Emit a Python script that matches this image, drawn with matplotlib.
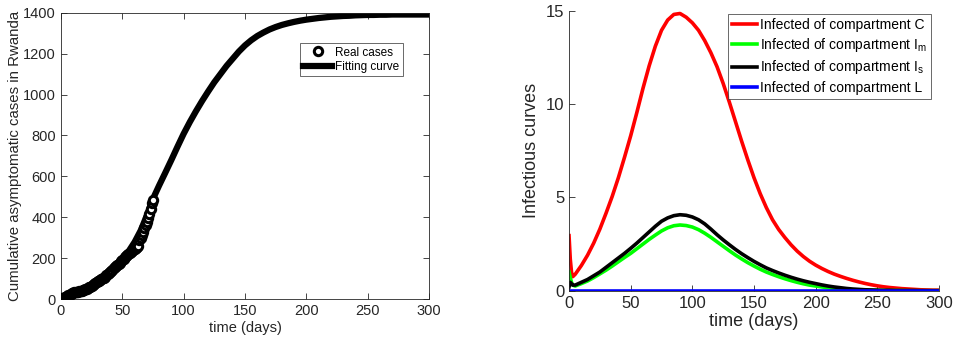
import numpy as np
import matplotlib
matplotlib.use("Agg")
import matplotlib.pyplot as plt

plt.rcParams['font.family'] = ['Liberation Sans', 'DejaVu Sans']
plt.rcParams['mathtext.fontset'] = 'custom'
plt.rcParams['mathtext.rm'] = 'Liberation Sans'
plt.rcParams['mathtext.it'] = 'Liberation Sans:italic'

# ---------------- data (left panel) ----------------
real_days = list(range(0, 76))
real_cases = [2, 4, 5, 8, 10, 14, 18, 22, 25, 28, 30, 32, 33, 35, 36, 38, 40, 41, 43, 45,
              47, 50, 53, 57, 60, 64, 68, 72, 77, 82, 87, 90, 93, 97, 101, 105, 110, 115, 120, 126,
              132, 138, 144, 150, 156, 160, 166, 172, 178, 184, 190, 197, 204, 210, 215, 220, 224, 229, 234, 240,
              245, 250, 255, 258, 290, 300, 315, 330, 345, 360, 375, 395, 415, 440, 470, 485]

fit_days = list(range(0, 301, 5))
fit_cases = [3, 10, 22, 33, 45, 60, 80, 102, 128, 158,
             192, 232, 278, 335, 408, 490, 555, 617, 680, 745,
             808, 865, 918, 968, 1015, 1060, 1100, 1140, 1175, 1210,
             1240, 1265, 1286, 1303, 1318, 1330, 1340, 1348, 1355, 1361,
             1366, 1370, 1374, 1377, 1380, 1382, 1384, 1385, 1387, 1388,
             1389, 1389, 1390, 1390, 1391, 1391, 1391, 1391, 1391, 1391,
             1391]

# ---------------- data (right panel) ----------------
t_days = [0, 1, 2, 3] + list(range(5, 301, 5))
inf_C = [2.95, 1.7, 1.0, 0.75,
         0.88, 1.35, 1.9, 2.55, 3.3, 4.15, 5.05, 6.05, 7.15, 8.3,
         9.55, 10.85, 12.05, 13.1, 13.95, 14.5, 14.8, 14.85, 14.65, 14.35,
         13.95, 13.4, 12.75, 12.0, 11.1, 10.1, 9.05, 8.0, 7.0, 6.05,
         5.2, 4.45, 3.8, 3.28, 2.85, 2.46, 2.12, 1.83, 1.58, 1.37,
         1.19, 1.03, 0.89, 0.77, 0.66, 0.56, 0.47, 0.39, 0.32, 0.26,
         0.21, 0.17, 0.14, 0.11, 0.09, 0.07, 0.05, 0.04, 0.03, 0.03]
inf_Im = [1.0, 0.7, 0.45, 0.3,
          0.25, 0.38, 0.52, 0.7, 0.9, 1.1, 1.32, 1.55, 1.78, 2.0,
          2.25, 2.5, 2.75, 2.98, 3.2, 3.37, 3.48, 3.52, 3.49, 3.41,
          3.27, 3.08, 2.86, 2.62, 2.38, 2.14, 1.91, 1.7, 1.5, 1.32,
          1.15, 1.0, 0.87, 0.75, 0.64, 0.54, 0.45, 0.37, 0.3, 0.25,
          0.2, 0.16, 0.12, 0.09, 0.07, 0.05, 0.04, 0.03, 0.02, 0.02,
          0.01, 0.01, 0.01, 0.01, 0.0, 0.0, 0.0, 0.0, 0.0, 0.0]
inf_Is = [0.2, 0.45, 0.38, 0.3,
          0.3, 0.45, 0.6, 0.8, 1.0, 1.25, 1.5, 1.75, 2.0, 2.27,
          2.55, 2.85, 3.15, 3.45, 3.72, 3.9, 4.02, 4.07, 4.04, 3.95,
          3.8, 3.58, 3.3, 3.0, 2.72, 2.46, 2.21, 1.98, 1.77, 1.57,
          1.39, 1.22, 1.08, 0.95, 0.83, 0.72, 0.62, 0.53, 0.45, 0.38,
          0.31, 0.25, 0.2, 0.16, 0.12, 0.09, 0.07, 0.05, 0.04, 0.03,
          0.02, 0.02, 0.01, 0.01, 0.01, 0.01, 0.0, 0.0, 0.0, 0.0]
inf_L = [0.0] * len(t_days)

label_C = 'Infected of compartment C'
label_Im = r'Infected of compartment I$_\mathrm{m}$'
label_Is = r'Infected of compartment I$_\mathrm{s}$'
label_L = 'Infected of compartment L'

txt = '#262626'
spine = '#262626'

fig = plt.figure(figsize=(9.57, 3.45), dpi=100)

# ---------------- left panel ----------------
ax1 = fig.add_axes([0.0637, 0.1333, 0.3846, 0.8299])
ax1.plot(real_days, real_cases, 'o', mfc='white', mec='black', mew=2.2, ms=6,
         label='Real cases', zorder=3)
ax1.plot(fit_days, fit_cases, '-', color='black', lw=4.5, label='Fitting curve', zorder=2,
         solid_joinstyle='round')
ax1.set_xlim(0, 300)
ax1.set_ylim(0, 1400)
ax1.set_xticks([0, 50, 100, 150, 200, 250, 300])
ax1.set_yticks([0, 200, 400, 600, 800, 1000, 1200, 1400])
ax1.tick_params(direction='in', top=True, right=True, labelsize=10.5, colors=txt, length=4, width=0.6)
for s in ax1.spines.values():
    s.set_color(spine)
    s.set_linewidth(0.6)
ax1.set_xlabel('time (days)', fontsize=10.5, color=txt, labelpad=2)
ax1.set_ylabel('Cumulative asymptomatic cases in Rwanda', fontsize=10.8, color=txt, labelpad=1)
leg1 = ax1.legend(loc='upper right', bbox_to_anchor=(403 / 957, 1 - 43 / 345),
                  bbox_transform=fig.transFigure, fontsize=8.5, frameon=True, fancybox=False,
                  edgecolor='#262626', handlelength=2.4, handletextpad=0.3, borderpad=0.3,
                  labelspacing=0.2, borderaxespad=0)
leg1.get_frame().set_linewidth(0.6)

# ---------------- right panel ----------------
ax2 = fig.add_axes([0.5946, 0.1574, 0.3866, 0.8116])
ax2.plot(t_days, inf_C, color='#ff0000', lw=2.6, label=label_C, solid_joinstyle='round')
ax2.plot(t_days, inf_Im, color='#00ff00', lw=2.6, label=label_Im, solid_joinstyle='round')
ax2.plot(t_days, inf_Is, color='black', lw=2.6, label=label_Is, solid_joinstyle='round')
ax2.plot(t_days, inf_L, color='#0000ff', lw=2.6, label=label_L)
ax2.set_xlim(0, 300)
ax2.set_ylim(0, 15)
ax2.set_xticks([0, 50, 100, 150, 200, 250, 300])
ax2.set_yticks([0, 5, 10, 15])
ax2.spines['top'].set_visible(False)
ax2.spines['right'].set_visible(False)
for s in ax2.spines.values():
    s.set_color(spine)
    s.set_linewidth(0.6)
ax2.tick_params(direction='in', labelsize=12, colors=txt, length=4, width=0.6)
ax2.set_xlabel('time (days)', fontsize=13, color=txt, labelpad=2)
ax2.set_ylabel('Infectious curves', fontsize=13, color=txt, labelpad=4)
leg2 = ax2.legend(loc='upper right', bbox_to_anchor=(931 / 957, 1 - 14 / 345),
                  bbox_transform=fig.transFigure, fontsize=10, frameon=True, fancybox=False,
                  edgecolor='#262626', handlelength=1.8, handletextpad=0.2, borderpad=0.3,
                  labelspacing=0.3, borderaxespad=0)
leg2.get_frame().set_linewidth(0.6)

fig.savefig('out.png', dpi=100)
